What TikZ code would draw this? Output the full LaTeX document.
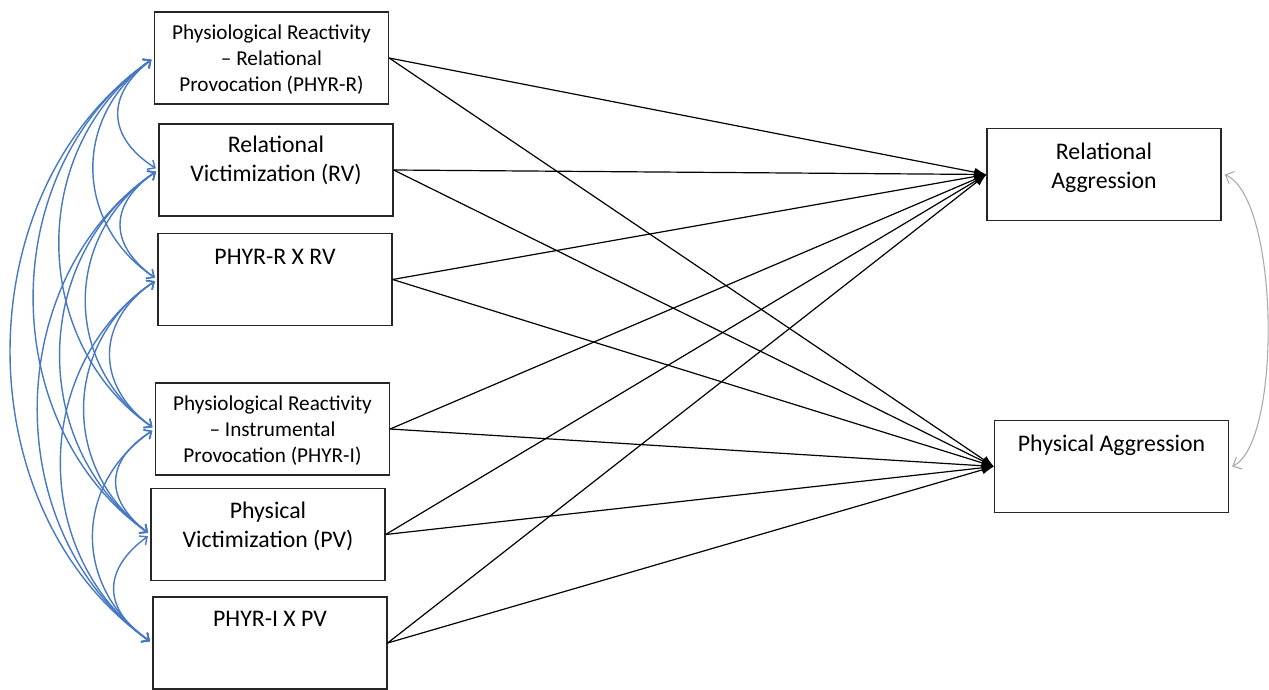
\documentclass[tikz,border=0pt]{standalone}
\usepackage{fontspec}
\setmainfont{Carlito}
\usetikzlibrary{arrows.meta,positioning}
\definecolor{corrblue}{RGB}{70,120,195}
\definecolor{arcgray}{RGB}{170,170,170}
\begin{document}
\begin{tikzpicture}[x=1pt,y=1pt,
  box/.style={draw=black!85, line width=1.3pt, minimum width=234pt, minimum height=92pt, inner sep=0pt},
  lbl/.style={anchor=north, align=center, inner sep=0pt, font=\fontsize{23.8}{28.5}\selectfont},
  lblsm/.style={lbl, font=\fontsize{21.2}{26}\selectfont},
  effect/.style={-{Latex[length=12pt,width=9pt]}, line width=1.2pt, black},
  corr/.style={{Straight Barb[length=6pt,width=11pt]}-{Straight Barb[length=6pt,width=11pt]}, line width=1.4pt, draw=corrblue, shorten <=3pt, shorten >=3pt, bend right=55},
  resid/.style={{Straight Barb[length=7pt,width=13pt]}-{Straight Barb[length=7pt,width=13pt]}, line width=1.1pt, draw=arcgray}
]
\useasboundingbox (0,0) rectangle (1269,-690);

% predictor boxes
\node[box] (b1) at (271.5,-58) {};
\node[box] (b2) at (276,-170) {};
\node[box] (b3) at (275,-279.5) {};
\node[box] (b4) at (272.5,-429) {};
\node[box] (b5) at (268,-534.5) {};
\node[box] (b6) at (270,-643) {};
% outcome boxes
\node[box] (ra) at (1104,-174.5) {};
\node[box] (pa) at (1111.5,-466.5) {};

% labels
\node[lblsm, below=9.5pt of b1.north] (t1) {\strut Physiological Reactivity\\– Relational\\Provocation (PHYR-R)};
\node[lbl, below=9.5pt of b2.north] (t2) {\strut Relational\\Victimization (RV)};
\node[lbl, below=11.5pt of b3.north] (t3) {\strut PHYR-R X RV};
\node[lblsm, below=10pt of b4.north] (t4) {\strut Physiological Reactivity\\– Instrumental\\Provocation (PHYR-I)};
\node[lbl, below=10.5pt of b5.north] (t5) {\strut Physical\\Victimization (PV)};
\node[lbl, below=10pt of b6.north] (t6) {\strut PHYR-I X PV};
\node[lbl, below=11.5pt of ra.north] (t7) {\strut Relational\\Aggression};
\node[lbl, below=11pt of pa.north] (t8) {\strut Physical Aggression};

% paths to outcomes
\foreach \s in {b1,b2,b3,b4,b5,b6}{
  \draw[effect] (\s.east) -- (ra.west);
  \draw[effect] (\s.east) -- (pa.west);
}

% correlations among predictors
\draw[corr, looseness=1.39] (b1.west) to (b2.west);
\draw[corr, looseness=1.16] (b1.west) to (b3.west);
\draw[corr, looseness=1.06] (b1.west) to (b4.west);
\draw[corr, looseness=1.03] (b1.west) to (b5.west);
\draw[corr, looseness=1.01] (b1.west) to (b6.west);
\draw[corr, looseness=1.40] (b2.west) to (b3.west);
\draw[corr, looseness=1.13] (b2.west) to (b4.west);
\draw[corr, looseness=1.07] (b2.west) to (b5.west);
\draw[corr, looseness=1.03] (b2.west) to (b6.west);
\draw[corr, looseness=1.27] (b3.west) to (b4.west);
\draw[corr, looseness=1.13] (b3.west) to (b5.west);
\draw[corr, looseness=1.07] (b3.west) to (b6.west);
\draw[corr, looseness=1.42] (b4.west) to (b5.west);
\draw[corr, looseness=1.17] (b4.west) to (b6.west);
\draw[corr, looseness=1.41] (b5.west) to (b6.west);

% residual correlation of outcomes
\coordinate (rae) at ([xshift=3pt]ra.east);
\coordinate (pae) at ([xshift=3pt]pa.east);
\draw[resid] (rae) .. controls +(55,-24) and +(50,24) .. (pae);
\end{tikzpicture}
\end{document}
